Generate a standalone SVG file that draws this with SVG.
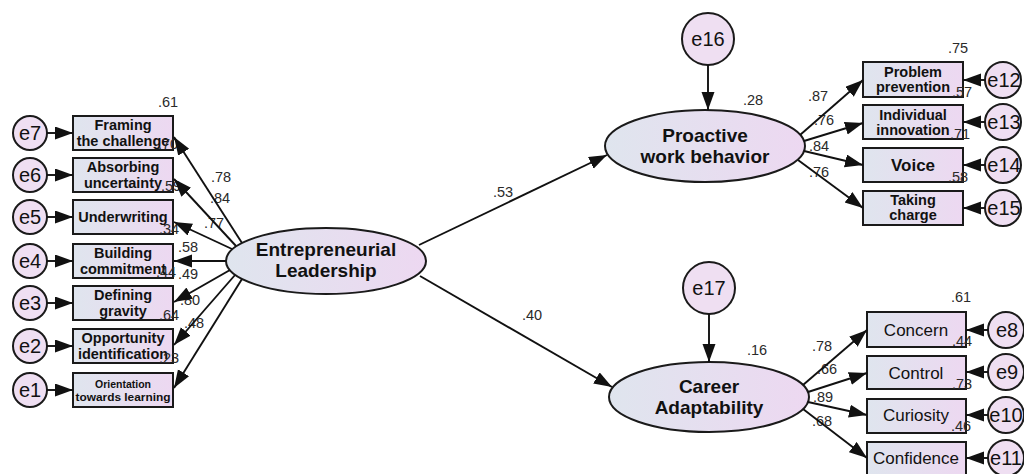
<svg xmlns="http://www.w3.org/2000/svg" width="1024" height="474" viewBox="0 0 1024 474">
<defs>
<linearGradient id="g" x1="0" y1="0" x2="1" y2="0">
<stop offset="0" stop-color="#dfe5ee"/>
<stop offset="1" stop-color="#edd8f1"/>
</linearGradient>
<marker id="ah" markerUnits="userSpaceOnUse" markerWidth="19" markerHeight="14" refX="18" refY="6.5" orient="auto">
<path d="M0,0 L18,6.5 L0,13 z" fill="#111"/>
</marker>
<style>
.box{fill:url(#g);stroke:#1a1a1a;stroke-width:2}
.lat{fill:url(#g);stroke:#1a1a1a;stroke-width:2}
.err{fill:#efdff2;stroke:#1a1a1a;stroke-width:2}
.bt{font-family:"Liberation Sans",Arial,sans-serif;font-weight:bold;font-size:14.5px;fill:#111;text-anchor:middle}
.rt{font-family:"Liberation Sans",Arial,sans-serif;font-size:17px;fill:#111;text-anchor:middle}
.lt{font-family:"Liberation Sans",Arial,sans-serif;font-weight:bold;font-size:19px;fill:#111;text-anchor:middle}
.et{font-family:"Liberation Sans",Arial,sans-serif;font-size:20px;fill:#111;text-anchor:middle}
.num{font-family:"Liberation Sans",Arial,sans-serif;font-size:14.5px;fill:#2a2a2a;text-anchor:middle}
.c{stroke:#111;stroke-width:1.9;fill:none;marker-end:url(#ah)}
</style>
</defs>
<rect width="1024" height="474" fill="#ffffff"/>

<g id="EL">
<ellipse class="lat" cx="326" cy="261" rx="100" ry="33"/>
<text class="lt" x="326" y="256">Entrepreneurial</text>
<text class="lt" x="326" y="277">Leadership</text>
</g>
<g id="PWB">
<ellipse class="lat" cx="705" cy="146" rx="100" ry="36"/>
<text class="lt" x="705" y="142">Proactive</text>
<text class="lt" x="705" y="163">work behavior</text>
</g>
<g id="CA">
<ellipse class="lat" cx="709" cy="397" rx="100" ry="35"/>
<text class="lt" x="709" y="393">Career</text>
<text class="lt" x="709" y="414">Adaptability</text>
</g>

<g id="e16"><circle class="err" cx="708" cy="39" r="26"/><text class="et" x="708" y="46">e16</text></g>
<g id="e17"><circle class="err" cx="709" cy="288" r="26"/><text class="et" x="709" y="295">e17</text></g>

<g id="framing"><rect class="box" x="73" y="116" width="100" height="34"/><text class="bt" x="123" y="130">Framing</text><text class="bt" x="123" y="146">the challenge</text></g>
<g id="absorbing"><rect class="box" x="73" y="158" width="100" height="34"/><text class="bt" x="123" y="172">Absorbing</text><text class="bt" x="123" y="188">uncertainty</text></g>
<g id="underwriting"><rect class="box" x="73" y="200" width="100" height="34"/><text class="bt" x="123" y="222">Underwriting</text></g>
<g id="building"><rect class="box" x="73" y="244" width="100" height="34"/><text class="bt" x="123" y="258">Building</text><text class="bt" x="123" y="274">commitment</text></g>
<g id="defining"><rect class="box" x="73" y="286" width="100" height="34"/><text class="bt" x="123" y="300">Defining</text><text class="bt" x="123" y="316">gravity</text></g>
<g id="opportunity"><rect class="box" x="73" y="329" width="100" height="34"/><text class="bt" x="123" y="343">Opportunity</text><text class="bt" x="123" y="359">identification</text></g>
<g id="orientation"><rect class="box" x="73" y="373" width="100" height="34"/><text class="bt" x="123" y="388" style="font-size:10.5px">Orientation</text><text class="bt" x="123" y="401" style="font-size:10.5px" textLength="95" lengthAdjust="spacingAndGlyphs">towards learning</text></g>

<g id="e7"><circle class="err" cx="30" cy="133" r="17"/><text class="et" x="30" y="140">e7</text></g>
<g id="e6"><circle class="err" cx="30" cy="175" r="17"/><text class="et" x="30" y="182">e6</text></g>
<g id="e5"><circle class="err" cx="30" cy="217" r="17"/><text class="et" x="30" y="224">e5</text></g>
<g id="e4"><circle class="err" cx="30" cy="261" r="17"/><text class="et" x="30" y="268">e4</text></g>
<g id="e3"><circle class="err" cx="30" cy="303" r="17"/><text class="et" x="30" y="310">e3</text></g>
<g id="e2"><circle class="err" cx="30" cy="346" r="17"/><text class="et" x="30" y="353">e2</text></g>
<g id="e1"><circle class="err" cx="30" cy="390" r="17"/><text class="et" x="30" y="397">e1</text></g>

<g id="problem"><rect class="box" x="863" y="62" width="100" height="35"/><text class="bt" x="913" y="77">Problem</text><text class="bt" x="913" y="92">prevention</text></g>
<g id="individual"><rect class="box" x="863" y="105" width="100" height="34"/><text class="bt" x="913" y="120">Individual</text><text class="bt" x="913" y="135">innovation</text></g>
<g id="voice"><rect class="box" x="863" y="148" width="100" height="34"/><text class="bt" x="913" y="171" style="font-size:17px">Voice</text></g>
<g id="taking"><rect class="box" x="863" y="191" width="100" height="34"/><text class="bt" x="913" y="205">Taking</text><text class="bt" x="913" y="220">charge</text></g>

<g id="e12"><circle class="err" cx="1003" cy="80" r="18"/><text class="et" x="1004" y="87">e12</text></g>
<g id="e13"><circle class="err" cx="1003" cy="122" r="18"/><text class="et" x="1004" y="129">e13</text></g>
<g id="e14"><circle class="err" cx="1003" cy="165" r="18"/><text class="et" x="1004" y="172">e14</text></g>
<g id="e15"><circle class="err" cx="1003" cy="208" r="18"/><text class="et" x="1004" y="215">e15</text></g>

<g id="concern"><rect class="box" x="867" y="312" width="99" height="35"/><text class="rt" x="916" y="336">Concern</text></g>
<g id="control"><rect class="box" x="867" y="356" width="99" height="33"/><text class="rt" x="916" y="379">Control</text></g>
<g id="curiosity"><rect class="box" x="867" y="399" width="99" height="34"/><text class="rt" x="916" y="421">Curiosity</text></g>
<g id="confidence"><rect class="box" x="867" y="442" width="99" height="34"/><text class="rt" x="916" y="464">Confidence</text></g>

<g id="e8"><circle class="err" cx="1006" cy="330" r="18"/><text class="et" x="1007" y="337">e8</text></g>
<g id="e9"><circle class="err" cx="1006" cy="372" r="18"/><text class="et" x="1007" y="379">e9</text></g>
<g id="e10"><circle class="err" cx="1006" cy="415" r="18"/><text class="et" x="1006" y="422">e10</text></g>
<g id="e11"><circle class="err" cx="1006" cy="458" r="18"/><text class="et" x="1006" y="465">e11</text></g>

<g id="labels">
<text class="num" x="168" y="107">.61</text>
<text class="num" x="168" y="149">.70</text>
<text class="num" x="171" y="191">.59</text>
<text class="num" x="169" y="234">.34</text>
<text class="num" x="166" y="277">.44</text>
<text class="num" x="169" y="320">.64</text>
<text class="num" x="169" y="363">.23</text>
<text class="num" x="221" y="182">.78</text>
<text class="num" x="220" y="203">.84</text>
<text class="num" x="214" y="228">.77</text>
<text class="num" x="188" y="252">.58</text>
<text class="num" x="188" y="279">.49</text>
<text class="num" x="190" y="305">.80</text>
<text class="num" x="194" y="328">.48</text>
<text class="num" x="503" y="197">.53</text>
<text class="num" x="532" y="320">.40</text>
<text class="num" x="753" y="105">.28</text>
<text class="num" x="757" y="355">.16</text>
<text class="num" x="958" y="53">.75</text>
<text class="num" x="962" y="97">.57</text>
<text class="num" x="960" y="139">.71</text>
<text class="num" x="958" y="182">.58</text>
<text class="num" x="818" y="101">.87</text>
<text class="num" x="824" y="125">.76</text>
<text class="num" x="819" y="151">.84</text>
<text class="num" x="819" y="177">.76</text>
<text class="num" x="961" y="302">.61</text>
<text class="num" x="962" y="346">.44</text>
<text class="num" x="962" y="389">.73</text>
<text class="num" x="961" y="431">.46</text>
<text class="num" x="822" y="351">.78</text>
<text class="num" x="827" y="374">.66</text>
<text class="num" x="823" y="402">.89</text>
<text class="num" x="822" y="426">.68</text>
</g>

<g id="connectors">
<line class="c" x1="242" y1="243" x2="174" y2="137"/>
<line class="c" x1="236" y1="246" x2="174" y2="179"/>
<line class="c" x1="232" y1="249" x2="174" y2="222"/>
<line class="c" x1="226" y1="261" x2="174" y2="261"/>
<line class="c" x1="230" y1="270" x2="174" y2="302"/>
<line class="c" x1="235" y1="275" x2="174" y2="345"/>
<line class="c" x1="242" y1="279" x2="174" y2="388"/>
<line class="c" x1="47" y1="133" x2="73" y2="133"/>
<line class="c" x1="47" y1="175" x2="73" y2="175"/>
<line class="c" x1="47" y1="217" x2="73" y2="217"/>
<line class="c" x1="47" y1="261" x2="73" y2="261"/>
<line class="c" x1="47" y1="303" x2="73" y2="303"/>
<line class="c" x1="47" y1="346" x2="73" y2="346"/>
<line class="c" x1="47" y1="390" x2="73" y2="390"/>
<line class="c" x1="419" y1="245" x2="607" y2="155"/>
<line class="c" x1="420" y1="276" x2="612" y2="387"/>
<line class="c" x1="708" y1="65" x2="708" y2="110"/>
<line class="c" x1="709" y1="314" x2="709" y2="362"/>
<line class="c" x1="800" y1="135" x2="863" y2="80"/>
<line class="c" x1="804" y1="141" x2="863" y2="123"/>
<line class="c" x1="804" y1="151" x2="863" y2="165"/>
<line class="c" x1="798" y1="160" x2="863" y2="208"/>
<line class="c" x1="985" y1="80" x2="963" y2="80"/>
<line class="c" x1="985" y1="122" x2="963" y2="122"/>
<line class="c" x1="985" y1="165" x2="963" y2="165"/>
<line class="c" x1="985" y1="208" x2="963" y2="208"/>
<line class="c" x1="803" y1="385" x2="867" y2="330"/>
<line class="c" x1="808" y1="392" x2="867" y2="373"/>
<line class="c" x1="808" y1="402" x2="867" y2="415"/>
<line class="c" x1="803" y1="409" x2="867" y2="458"/>
<line class="c" x1="988" y1="330" x2="966" y2="330"/>
<line class="c" x1="988" y1="372" x2="966" y2="372"/>
<line class="c" x1="988" y1="415" x2="966" y2="415"/>
<line class="c" x1="988" y1="458" x2="966" y2="458"/>
</g>
</svg>
